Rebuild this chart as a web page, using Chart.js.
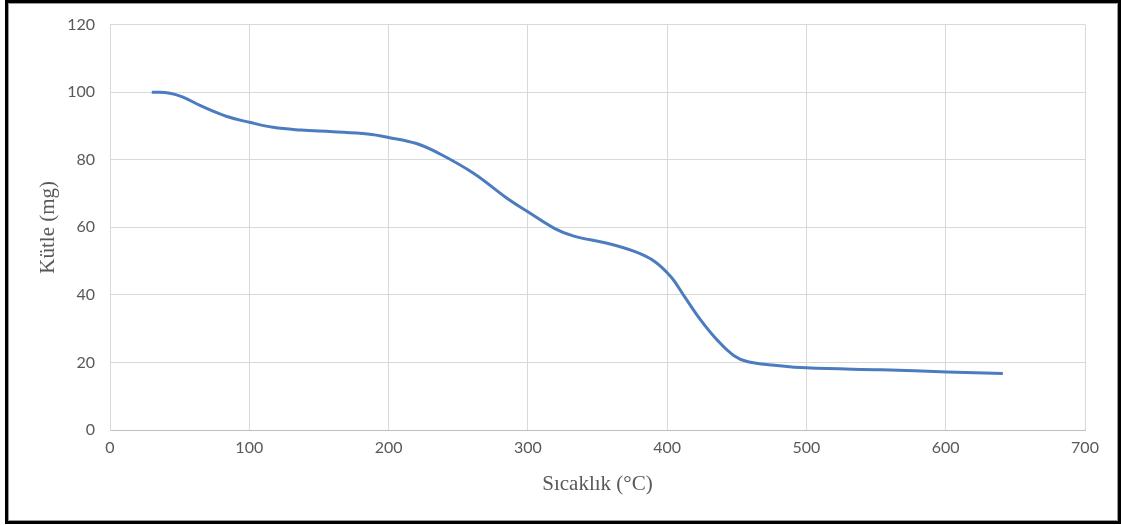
<!DOCTYPE html>
<html>
<head>
<meta charset="utf-8">
<script src="https://cdn.jsdelivr.net/npm/chart.js@4"></script>
<style>
  html, body { margin: 0; padding: 0; background: #fff; }
  #wrap { position: absolute; left: 0; top: 0; width: 1121px; height: 525px; }
  #frame {
    position: absolute; left: 5px; top: 0; width: 1116px; height: 524px;
    box-sizing: border-box; border: 3px solid #000;
    box-shadow: inset 1px 1px 0 #9a9a9a, inset -1px -1px 0 #9a9a9a;
    pointer-events: none;
  }
</style>
</head>
<body>
<div id="wrap"><canvas id="tgaChart" width="1121" height="525"></canvas></div>
<div id="frame"></div>
<script>
// temperature (°C) and mass (mg)
const temperature = [30, 43, 52, 65, 84, 100, 117, 137, 160, 185, 200, 220, 237, 261, 285, 300, 319, 333, 357, 377, 391, 403, 412, 424, 436, 448, 458, 477, 500, 554, 601, 641];
const mass = [100, 99.7, 98.6, 96.0, 92.8, 91.1, 89.6, 88.8, 88.3, 87.6, 86.6, 84.8, 81.7, 76.0, 68.6, 64.6, 59.7, 57.4, 55.3, 52.8, 49.9, 45.2, 39.8, 32.6, 26.6, 22.0, 20.2, 19.2, 18.4, 17.8, 17.2, 16.7];

const xTitle = 'Sıcaklık (°C)';
const yTitle = 'Kütle (mg)';

document.addEventListener('DOMContentLoaded', function() {
    const ctx = document.getElementById('tgaChart').getContext('2d');
    const points = temperature.map((t, i) => ({ x: t, y: mass[i] }));

    new Chart(ctx, {
        type: 'line',
        data: {
            datasets: [{
                data: points,
                borderColor: '#4a7cbf',
                borderWidth: 3,
                pointRadius: 0,
                fill: false,
                tension: 0.4
            }]
        },
        options: {
            responsive: false,
            animation: false,
            layout: {
                padding: { left: 0, top: 24, right: 36, bottom: 0 }
            },
            plugins: {
                legend: { display: false },
                tooltip: { enabled: false }
            },
            scales: {
                x: {
                    type: 'linear',
                    min: 0,
                    max: 700,
                    ticks: {
                        stepSize: 100,
                        color: '#595959',
                        padding: 8,
                        font: { family: 'Lato', size: 16 }
                    },
                    grid: {
                        color: '#d9d9d9',
                        drawTicks: false
                    },
                    border: { color: '#bfbfbf' },
                    title: {
                        display: true,
                        text: xTitle,
                        color: '#595959',
                        font: { family: 'Liberation Serif', size: 21 },
                        padding: { top: 0, bottom: 28 }
                    },
                    afterFit: function(scale) { scale.height = 95; }
                },
                y: {
                    min: 0,
                    max: 120,
                    ticks: {
                        stepSize: 20,
                        color: '#595959',
                        padding: 15,
                        font: { family: 'Lato', size: 16 }
                    },
                    grid: {
                        color: '#d9d9d9',
                        drawTicks: false
                    },
                    border: { color: '#d9d9d9' },
                    title: {
                        display: true,
                        text: yTitle,
                        color: '#595959',
                        font: { family: 'Liberation Serif', size: 21 },
                        padding: { top: 36, bottom: 0 }
                    },
                    afterFit: function(scale) { scale.width = 110; }
                }
            }
        }
    });
});
</script>
</body>
</html>
